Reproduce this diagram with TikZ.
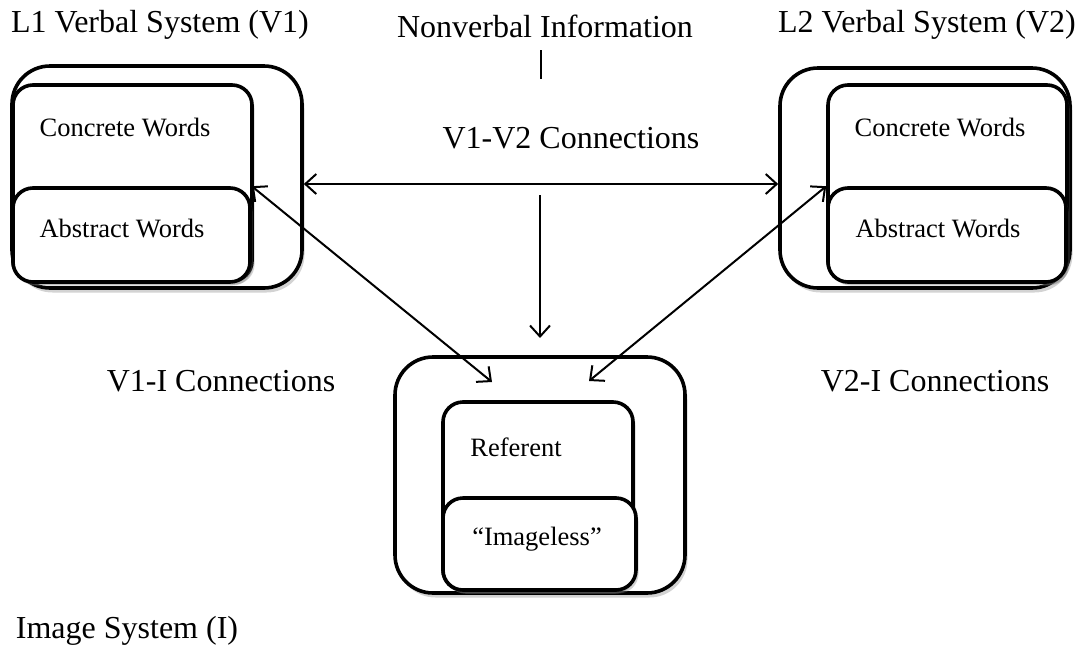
\documentclass[tikz,border=0pt]{standalone}
\usepackage{fontspec}
\setmainfont{Liberation Serif}
\usetikzlibrary{arrows.meta,shadows}
\begin{document}
\begin{tikzpicture}[x=1pt,y=-1pt,
  outerbox/.style={draw,line width=3.6pt,fill=white,rounded corners=38pt,inner sep=0pt,
     drop shadow={opacity=0.35,shadow xshift=2.5pt,shadow yshift=-4.5pt}},
  innerbox/.style={draw,line width=3.6pt,fill=white,rounded corners=20pt,inner sep=0pt,
     drop shadow={opacity=0.35,shadow xshift=2.5pt,shadow yshift=-3.5pt}},
  biglabel/.style={font=\fontsize{32}{36}\selectfont,inner sep=0pt},
  smalllabel/.style={font=\fontsize{26.5}{30}\selectfont,inner sep=0pt},
  tip/.style={Straight Barb[length=11pt,width=20pt,line width=2pt]},
  conn/.style={line width=2pt,-{Straight Barb[length=11pt,width=20pt,line width=2pt]}},
  biconn/.style={line width=2pt,{Straight Barb[length=11pt,width=20pt,line width=2pt]}-{Straight Barb[length=11pt,width=20pt,line width=2pt]}}
]
\useasboundingbox (0,0) rectangle (1084,651);

% Left verbal system
\node[outerbox,minimum width=290pt,minimum height=222pt] (Lout) at (157,177) {};
\node[innerbox,minimum width=239pt,minimum height=196pt] (Lcon) at (132.5,183) {};
\node[innerbox,minimum width=237pt,minimum height=94pt] (Labs) at (131.5,235) {};
\node[smalllabel] (LconT) at (125,128) {Concrete Words};
\node[smalllabel] (LabsT) at (122,229) {Abstract Words};

% Right verbal system
\node[outerbox,minimum width=290pt,minimum height=220pt] (Rout) at (925,178) {};
\node[innerbox,minimum width=239pt,minimum height=196pt] (Rcon) at (947.5,183) {};
\node[innerbox,minimum width=238pt,minimum height=94pt] (Rabs) at (947,235) {};
\node[smalllabel] (RconT) at (940,128) {Concrete Words};
\node[smalllabel] (RabsT) at (938,229) {Abstract Words};

% Image system
\node[outerbox,minimum width=290pt,minimum height=236pt] (Bout) at (540,475) {};
\node[innerbox,minimum width=190pt,minimum height=188pt] (Bref) at (538,496) {};
\node[innerbox,minimum width=193pt,minimum height=92pt] (Bimg) at (539.5,544) {};
\node[smalllabel] (BrefT) at (516,447) {Referent};
\node[smalllabel] (BimgT) at (537,539) {``Imageless''};

% Labels
\node[biglabel] (L1) at (160,25) {L1 Verbal System (V1)};
\node[biglabel] (NV) at (545,26) {Nonverbal Information};
\node[biglabel] (L2) at (927,25) {L2 Verbal System (V2)};
\node[biglabel] (VV) at (571,138) {V1-V2 Connections};
\node[biglabel] (V1I) at (221,381) {V1-I Connections};
\node[biglabel] (V2I) at (935,381) {V2-I Connections};
\node[biglabel] (IS) at (127,631) {Image System (I)};

% Connectors
\coordinate (hy) at (0,184);
\coordinate (nvtop) at (541,50);
\coordinate (nvbot) at (541,79);
\coordinate (vtop) at (540,195);
\coordinate (vbot) at (540,338);
\coordinate (bl) at (492,382);
\coordinate (br) at (589,381);

\draw[line width=2pt] (nvtop) -- (nvbot);
\draw[biconn] (Lout.east |- hy) -- (Rout.west |- hy);
\draw[conn] (vtop) -- (vbot);
\draw[biconn] (Labs.north east) -- (bl);
\draw[biconn] (Rabs.north west) -- (br);
\end{tikzpicture}
\end{document}
